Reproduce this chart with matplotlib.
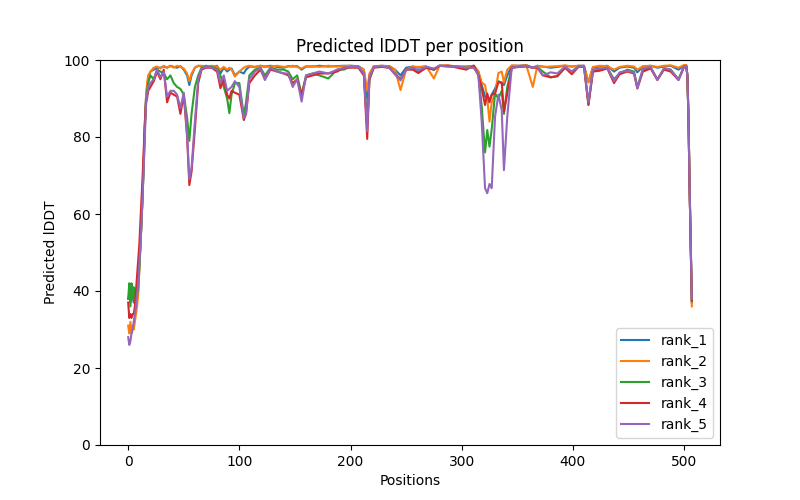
import numpy as np
import matplotlib
matplotlib.use('Agg')
import matplotlib.pyplot as plt

# 读取的位置点 (按图估计)
positions = [0, 1, 2, 3, 4, 5, 6, 7, 8, 9, 10, 11, 12, 13, 14, 15, 16, 17, 18, 20,
             23, 26, 29, 32, 35, 38, 41, 44, 47, 50,
             53, 55, 57, 60, 63, 66, 70, 75, 80, 83,
             86, 89, 91, 93, 96, 100, 104, 106, 109, 114,
             119, 123, 128, 134, 140, 144, 148, 152, 156, 160,
             166, 172, 180, 188, 194, 200, 207, 212, 215, 217,
             221, 228, 235, 240, 245, 250, 256, 261, 268, 275,
             280, 288, 296, 304, 311, 315, 318, 321, 323, 325,
             327, 330, 333, 336, 338, 341, 345, 352, 358, 364,
             368, 373, 380, 386, 393, 399, 405, 410, 414, 418,
             424, 431, 437, 442, 449, 455, 458, 463, 470, 476,
             482, 488, 495, 500, 502, 503, 504, 505, 506, 507]

rank_1 = [38, 39, 37, 38, 39, 37, 38, 37, 39, 40, 46, 52, 58, 65, 74, 83, 90, 93, 95, 97,
          97.5, 98, 98, 98.3, 98, 98.5, 98.2, 98, 98.4, 97.5,
          96, 93.5, 96, 98, 98.5, 98.3, 98.5, 98.2, 98.5, 96.5,
          98, 97, 97.5, 97.8, 96, 97, 96.5, 97.5, 98.3, 98.2,
          98.5, 98.3, 98.5, 98.2, 98, 98.4, 98.3, 98.4, 97.5, 98.3,
          98.3, 98.5, 98.3, 98.4, 98.5, 98.5, 98.4, 97.5, 90, 96,
          98.3, 98.5, 98.4, 97.5, 96, 98, 98.3, 98, 98.3, 97.5,
          98.5, 98.5, 98.3, 98.3, 98.5, 97, 93.5, 90.5, 90, 89.6,
          91, 92.6, 94.5, 94, 93.5, 96, 98.5, 98.5, 98.7, 98,
          98.5, 98.3, 98, 98.2, 98.5, 98.3, 98.5, 98.5, 94.2, 98,
          98.3, 98.5, 97, 98, 98.3, 98, 96.8, 98.3, 98.5, 98,
          98.3, 98.5, 97.5, 98.5, 98.5, 96, 85, 67, 52, 37]

rank_2 = [31, 29, 32, 29, 31, 30, 32, 34, 36, 39, 45, 51, 58, 65, 74, 83, 90, 94, 96, 97,
          98, 98.3, 97.8, 98.5, 98, 98.4, 98, 98.5, 98.2, 97.8,
          96.5, 94.5, 96.5, 98, 98.5, 98.5, 98.3, 98.5, 98.3, 97.5,
          98.2, 97.5, 98, 97.5, 95.7, 97, 98, 98.3, 98.5, 98.2,
          98.5, 98.2, 98.3, 98.5, 98.2, 98.3, 98.5, 98.2, 97.8, 98.4,
          98.4, 98.2, 98.5, 98.3, 98.4, 98.5, 98.3, 97.5, 92, 96.5,
          98.4, 98.5, 98.3, 97.5, 92.2, 97.5, 98.3, 98.2, 98.4, 95.2,
          98.5, 98.6, 98.3, 98.2, 98.5, 97, 94.2, 93.5, 90, 84,
          89, 91.3, 96.6, 97, 94.2, 97.5, 98.6, 98.5, 98.7, 93,
          98.5, 98.2, 98.3, 98.4, 98.6, 98.3, 98.5, 98.5, 94.2, 98.2,
          98.5, 98.4, 97.5, 98.2, 98.5, 98.3, 97.5, 98.4, 98.5, 98.2,
          98.5, 98.6, 98, 98.7, 98.7, 96, 85, 67, 52, 36]

rank_3 = [38, 42, 36, 42, 38, 41, 37, 40, 39, 41, 46, 52, 58, 65, 73, 82, 89, 92, 94, 96,
          95, 97.5, 97, 96.5, 95, 96, 94, 93, 92.5, 91,
          85, 79, 86, 93, 96, 98, 98.3, 98.2, 97.8, 96,
          93, 90, 86.2, 91, 94, 94, 85.5, 89, 96, 97.5,
          98, 96, 98, 97.5, 97.5, 97, 95, 96, 91, 96,
          96.5, 96, 95.2, 97.5, 97.5, 98.3, 98.2, 96.5, 83, 95,
          98.2, 98.3, 98, 96.5, 95, 97.5, 97.8, 97, 98, 97.5,
          98.5, 98.3, 98.3, 98, 98, 96.1, 88, 76, 81.8, 77.5,
          82, 91.3, 90, 92, 86, 93, 98, 98.3, 98.5, 98,
          98.2, 97, 95.5, 95.8, 98, 97, 98.3, 98.3, 88.5, 97,
          97.5, 98, 95, 96.5, 97.5, 97, 93, 97.5, 98, 95,
          97.8, 97.5, 95, 98.3, 98.5, 96, 85, 67, 52, 37.5]

rank_4 = [37, 33, 34, 33, 34, 34, 36, 40, 44, 48, 52, 58, 64, 70, 77, 84, 89, 90, 92, 93,
          94.5, 97, 95, 97.5, 89, 91.5, 91, 90.5, 86, 91,
          80, 67.5, 71, 82, 94, 97.5, 98, 98, 97, 92.7,
          95, 91, 90, 92, 91.5, 91, 84.4, 86, 94, 96,
          97.5, 95, 97.5, 97, 96.5, 96, 94, 95, 91, 95.5,
          96, 96.5, 96.5, 97, 98, 98, 98, 96, 79.5, 95,
          98, 98.2, 98, 96.3, 95, 97.5, 97.5, 96.6, 98, 97.5,
          98.5, 98.5, 98, 97.5, 98.5, 96.1, 92.6, 88.3, 91.3, 89,
          91, 91.3, 94.2, 94.2, 86.6, 91.3, 98, 98.2, 98.3, 98,
          98, 96, 95.5, 95.8, 98, 96.3, 98.2, 98.3, 88.3, 97,
          97.2, 97.8, 94, 96.3, 97, 96.5, 92.6, 97, 97.8, 94.8,
          97.5, 97, 94.8, 98.2, 98.4, 96, 85, 67, 52, 37.5]

rank_5 = [28, 26, 27, 29, 30, 32, 34, 36, 39, 42, 47, 52, 58, 65, 72, 80, 88, 91, 93, 94,
          95, 97.5, 95.5, 97, 90.5, 92, 92, 91, 87.5, 91.5,
          81, 69, 72, 84, 95, 97.8, 98.2, 98, 97.5, 94,
          96, 92, 92.5, 93, 94.5, 93, 84.9, 86, 95, 97,
          98, 94.8, 98, 97, 96.5, 96.5, 93, 95, 89.2, 96,
          96.5, 97, 96.5, 97.5, 98, 98.2, 98.2, 96.5, 81.5, 95.5,
          98.2, 98.4, 98, 96.3, 94.7, 97.5, 98, 97.3, 98.2, 97.8,
          98.5, 98.3, 98.3, 98, 98, 96.1, 84, 66.7, 65.4, 67.8,
          66.7, 85.3, 91, 87, 71.4, 85.3, 98, 98.3, 98.5, 98,
          98.3, 96, 96.8, 96.5, 98.3, 97, 98.3, 98.5, 89, 97.5,
          97.8, 98, 94.5, 96.8, 97.2, 96.8, 92.6, 97.8, 98.2, 94.8,
          97.8, 97.5, 94.8, 98.3, 98.5, 96, 85, 67, 52, 38]

names = ['rank_1', 'rank_2', 'rank_3', 'rank_4', 'rank_5']
series = [rank_1, rank_2, rank_3, rank_4, rank_5]

plt.figure(figsize=(8, 5), dpi=100)
plt.title('Predicted lDDT per position')
for name, vals in zip(names, series):
    plt.plot(positions, vals, label=name)
plt.legend(loc='lower right')
plt.ylim(0, 100)
plt.ylabel('Predicted lDDT')
plt.xlabel('Positions')
plt.savefig('out.png', dpi=100)
